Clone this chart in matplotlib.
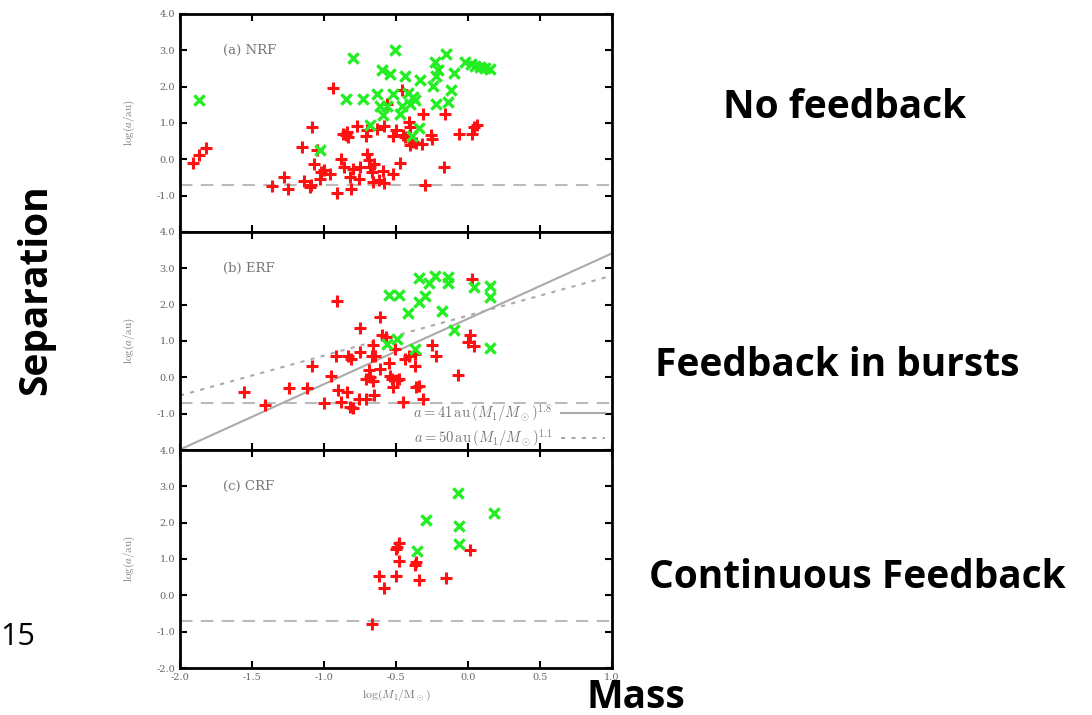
import numpy as np
import matplotlib.pyplot as plt

plt.rcParams['mathtext.fontset'] = 'cm'

# panel (a) NRF
a_red_x = [-1.91, -1.87, -1.82, -1.36, -1.28, -1.25, -1.15, -1.14, -1.10, -1.09, -1.08, -1.07, -1.05,
           -1.03, -1.02, -1.00, -0.96, -0.94, -0.91, -0.88, -0.87, -0.86, -0.85, -0.84, -0.83, -0.82,
           -0.81, -0.80, -0.77, -0.76, -0.75, -0.71, -0.70, -0.70, -0.69, -0.68, -0.67, -0.66, -0.65,
           -0.63, -0.62, -0.59, -0.58, -0.58, -0.56, -0.52, -0.52, -0.50, -0.47, -0.46, -0.45, -0.44,
           -0.41, -0.40, -0.40, -0.38, -0.36, -0.32, -0.31, -0.30, -0.26, -0.25, -0.17, -0.16, -0.06,
           0.03, 0.04, 0.06]
a_red_y = [-0.09, 0.11, 0.32, -0.73, -0.50, -0.83, 0.34, -0.61, -0.76, -0.71, 0.88, -0.12, 0.25,
           -0.53, -0.35, -0.30, -0.39, 1.97, -0.94, 0.02, 0.71, -0.21, 0.67, 0.75, 0.61, -0.49,
           -0.81, -0.26, 0.91, -0.53, -0.21, 0.63, 0.80, 0.16, -0.03, -0.21, -0.35, -0.62, -0.12,
           0.84, -0.58, -0.32, 0.91, -0.65, 1.53, -0.39, 0.63, 0.80, -0.09, 1.92, 0.67, 0.61,
           1.03, 0.89, 0.40, 0.48, 0.45, 0.43, 1.24, -0.72, 0.66, 0.57, -0.21, 1.26, 0.71,
           0.71, 0.89, 0.95]
a_grn_x = [-1.87, -1.03, -0.80, -0.85, -0.73, -0.68, -0.63, -0.60, -0.61, -0.59, -0.56, -0.54, -0.52,
           -0.51, -0.47, -0.46, -0.44, -0.42, -0.40, -0.38, -0.37, -0.34, -0.39, -0.33, -0.24, -0.23,
           -0.22, -0.21, -0.22, -0.15, -0.14, -0.12, -0.10, -0.02, 0.02, 0.05, 0.08, 0.12, 0.15]
a_grn_y = [1.62, 0.25, 2.78, 1.66, 1.66, 0.94, 1.79, 2.45, 1.46, 1.21, 1.46, 2.34, 1.79,
           3.00, 1.26, 1.46, 2.28, 1.82, 1.51, 1.72, 1.62, 0.86, 0.63, 2.19, 2.01, 2.67,
           2.28, 2.45, 1.53, 2.89, 1.58, 1.90, 2.37, 2.69, 2.63, 2.56, 2.54, 2.52, 2.48]

# panel (b) ERF
b_red_x = [-1.555, -1.41, -1.24, -1.12, -1.085, -1.00, -0.95, -0.92, -0.91, -0.90, -0.88, -0.84, -0.83,
           -0.82, -0.81, -0.80, -0.76, -0.75, -0.75, -0.71, -0.71, -0.69, -0.68, -0.67, -0.66, -0.66,
           -0.645, -0.65, -0.61, -0.61, -0.60, -0.57, -0.55, -0.54, -0.53, -0.52, -0.51, -0.49, -0.48,
           -0.45, -0.44, -0.41, -0.37, -0.37, -0.36, -0.34, -0.31, -0.25, -0.22, -0.07, 0.015, 0.00,
           0.04, 0.03]
b_red_y = [-0.41, -0.75, -0.30, -0.29, 0.31, -0.71, 0.05, 0.60, 2.10, -0.34, -0.69, -0.41, 0.60,
           -0.81, 0.51, -0.85, -0.61, 1.37, 0.70, -0.59, -0.04, 0.19, 0.00, 0.60, 0.88, -0.09,
           0.58, -0.50, 0.23, 1.65, 1.16, 1.11, 0.40, 0.05, -0.04, -0.27, 0.79, -0.06, -0.04,
           -0.69, 0.51, 0.60, 0.65, 0.31, -0.27, -0.23, -0.59, 0.88, 0.58, 0.07, 1.16, 0.97,
           0.86, 2.72]
b_grn_x = [-0.55, -0.48, -0.42, -0.34, -0.34, -0.30, -0.27, -0.23, -0.18, -0.14, -0.14, -0.10, 0.045,
           0.15, 0.15, 0.15, -0.56, -0.49, -0.37]
b_grn_y = [2.26, 2.26, 1.76, 2.74, 2.06, 2.24, 2.59, 2.80, 1.82, 2.77, 2.61, 1.29, 2.49,
           2.51, 2.22, 0.81, 0.93, 1.06, 0.79]

# panel (c) CRF
c_red_x = [-0.666, -0.62, -0.58, -0.50, -0.50, -0.49, -0.48, -0.48, -0.37, -0.36, -0.34, -0.15, 0.015]
c_red_y = [-0.80, 0.54, 0.21, 1.27, 0.53, 1.34, 1.43, 0.95, 0.83, 0.92, 0.42, 0.48, 1.26]
c_grn_x = [-0.355, -0.29, -0.07, -0.06, -0.06, 0.18]
c_grn_y = [1.22, 2.06, 2.81, 1.92, 1.40, 2.26]

panels = [("(a) NRF", a_red_x, a_red_y, a_grn_x, a_grn_y),
          ("(b) ERF", b_red_x, b_red_y, b_grn_x, b_grn_y),
          ("(c) CRF", c_red_x, c_red_y, c_grn_x, c_grn_y)]

fig = plt.figure(figsize=(10.92, 7.15), dpi=100)
axes = []
for i, (lab, rx, ry, gx, gy) in enumerate(panels):
    top = 1 - 14/715 - i*218/715
    ax = fig.add_axes([180/1092, top - 218/715, 432/1092, 218/715])
    axes.append(ax)
    ax.axhline(-0.7, color='#bbbbbb', lw=1.5, dashes=(6, 4), zorder=1)
    if i == 1:
        xx = np.linspace(-2, 1, 10)
        ax.plot(xx, np.log10(41) + 1.8*xx, color='#aaaaaa', lw=1.5,
                label=r'$a = 41\,\mathrm{au}\,(M_1/M_\odot)^{1.8}$')
        ax.plot(xx, np.log10(50) + 1.1*xx, color='#aaaaaa', lw=1.5, ls=(0, (2, 3)),
                label=r'$a = 50\,\mathrm{au}\,(M_1/M_\odot)^{1.1}$')
        ax.legend(loc='lower right', bbox_to_anchor=(1.0, -0.03), frameon=False,
                  markerfirst=False, fontsize=10.5, handlelength=3.0, labelcolor='#777777',
                  borderaxespad=0.1, labelspacing=0.2, handletextpad=0.6)
    ax.scatter(rx, ry, marker='+', s=70, color='#ff1111', linewidths=2.2, zorder=3)
    ax.scatter(gx, gy, marker='x', s=55, color='#22ee22', linewidths=2.4, zorder=4)
    ax.text(-1.70, 3.0, lab, fontsize=9.5, family='DejaVu Serif', color='#777777', va='center')
    ax.set_xlim(-2, 1)
    ax.set_ylim(-2, 4)
    ax.set_xticks(np.arange(-2, 1.01, 0.5))
    ax.set_yticks(np.arange(-2, 4.01, 1.0))
    ylabs = ['%.1f' % v for v in np.arange(-2, 4.01, 1.0)]
    if i < 2:
        ylabs[0] = ''
    ax.set_yticklabels(ylabs)
    ax.tick_params(direction='in', top=True, right=True, length=5, width=1.5,
                   labelsize=7, labelcolor='#666666')
    for t in ax.get_xticklabels() + ax.get_yticklabels():
        t.set_family('DejaVu Serif')
    for s in ax.spines.values():
        s.set_linewidth(2)
    ax.set_ylabel(r'$\log(a/\mathrm{au})$', fontsize=8, color='#777777', labelpad=14)
    if i < 2:
        ax.tick_params(labelbottom=False)
    else:
        ax.set_xticklabels(['%.1f' % v for v in np.arange(-2, 1.01, 0.5)])
        ax.set_xlabel(r'$\log(M_1/\mathrm{M}_\odot)$', fontsize=8.5, color='#777777')

bold = dict(family='Open Sans', fontweight='bold', fontsize=28, color='black')
fig.text(845/1092, 1 - 107/715, 'No feedback', ha='center', va='center', **bold)
fig.text(837/1092, 1 - 366/715, 'Feedback in bursts', ha='center', va='center', **bold)
fig.text(857/1092, 1 - 577/715, 'Continuous Feedback', ha='center', va='center', **bold)
fig.text(36/1092, 1 - 290/715, 'Separation', ha='center', va='center', rotation=90, **bold)
fig.text(636/1092, 1 - 697/715, 'Mass', ha='center', va='center', **bold)
fig.text(0/1092, 1 - 637/715, '15', ha='left', va='center', family='Open Sans', fontsize=22)

fig.savefig('out.png', dpi=100)
